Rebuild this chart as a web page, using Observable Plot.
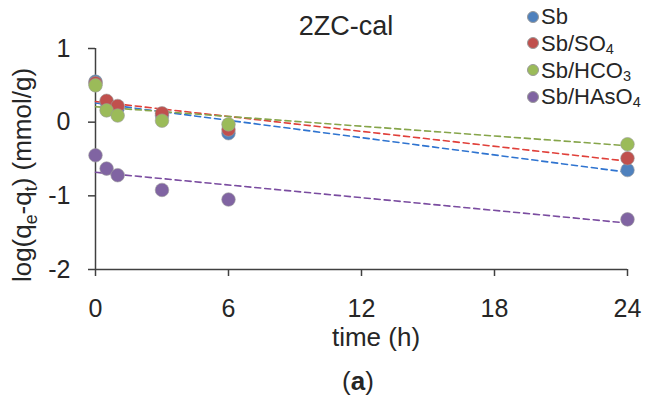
<!DOCTYPE html>
<html>
<head>
<meta charset="utf-8">
<script src="https://cdn.jsdelivr.net/npm/d3@7"></script>
<script src="https://cdn.jsdelivr.net/npm/@observablehq/plot@0.6"></script>
<style>
  html, body { margin: 0; padding: 0; background: #fff; }
  #wrap { position: relative; width: 649px; height: 405px; font-family: "Liberation Sans", Arial, sans-serif; color: #262626; }
  .abs { position: absolute; white-space: nowrap; }
  .sub { font-size: 0.68em; vertical-align: -0.32em; line-height: 0; }
  .lsub { font-size: 0.66em; vertical-align: -0.2em; line-height: 0; }
</style>
</head>
<body>
<div id="wrap"></div>
<script>
// ---- data ----
const times = [0, 0.5, 1, 3, 6, 24];
const seriesNames = ["Sb", "Sb/SO4", "Sb/HCO3", "Sb/HAsO4"];
const seriesLabels = ["Sb", "Sb/SO<span class='lsub'>4</span>", "Sb/HCO<span class='lsub'>3</span>", "Sb/HAsO<span class='lsub'>4</span>"];
const sbValues = [0.55, 0.27, 0.19, 0.09, -0.15, -0.65];
const so4Values = [0.53, 0.29, 0.22, 0.12, -0.10, -0.49];
const hco3Values = [0.50, 0.16, 0.09, 0.02, -0.03, -0.30];
const hasO4Values = [-0.45, -0.63, -0.72, -0.92, -1.05, -1.32];
// fitted (dashed) lines: value at t = 0 and t = 24
const fitTimes = [0, 24];
const fitStart = [0.26, 0.28, 0.21, -0.68];
const fitEnd = [-0.68, -0.53, -0.32, -1.37];
const markerColors = ["#4F81BD", "#C0504D", "#9BBB59", "#8064A2"];
const lineColors = ["#2F74D0", "#E0403A", "#86A54A", "#7A4CA0"];
const xTicks = [0, 6, 12, 18, 24];
const yTicks = [-2, -1, 0, 1];
const titleText = "2ZC-cal";
const xLabel = "time (h)";
const yLabelHtml = "log(q<span class='sub'>e</span>-q<span class='sub'>t</span>) (mmol/g)";
const captionHtml = "(<b>a</b>)";

// ---- build tables ----
const allValues = [sbValues, so4Values, hco3Values, hasO4Values];
const points = [];
allValues.forEach((vals, i) => vals.forEach((v, j) => points.push({t: times[j], v, s: seriesNames[i]})));
const fits = [];
seriesNames.forEach((s, i) => {
  fits.push({t: fitTimes[0], v: fitStart[i], s});
  fits.push({t: fitTimes[1], v: fitEnd[i], s});
});
const lineColorOf = Object.fromEntries(seriesNames.map((s, i) => [s, lineColors[i]]));
const markerColorOf = Object.fromEntries(seriesNames.map((s, i) => [s, markerColors[i]]));

const axisColor = "#404040";

const chart = Plot.plot({
  width: 649,
  height: 405,
  marginLeft: 95,
  marginRight: 22,
  marginTop: 48,
  marginBottom: 136,
  x: {domain: [0, 24]},
  y: {domain: [-2, 1]},
  style: {fontFamily: "'Liberation Sans', Arial, sans-serif", color: "#262626", background: "white", overflow: "visible"},
  marks: [
    Plot.ruleX([0], {y1: -2, y2: 1, stroke: axisColor, strokeWidth: 1.5}),
    Plot.ruleY([-2], {x1: 0, x2: 24, stroke: axisColor, strokeWidth: 1.5}),
    Plot.axisX({ticks: xTicks, tickSize: 7, tickPadding: 23, fontSize: 25, label: null, stroke: axisColor, strokeWidth: 1.5, tickFormat: d => String(d)}),
    Plot.axisY({ticks: yTicks, tickSize: 7, tickPadding: 18, fontSize: 25, label: null, stroke: axisColor, strokeWidth: 1.5, tickFormat: d => String(d)}),
    ...seriesNames.map(s => Plot.line(fits.filter(d => d.s === s), {x: "t", y: "v", stroke: lineColorOf[s], strokeWidth: 1.6, strokeDasharray: "6,4"})),
    ...seriesNames.map(s => Plot.dot(points.filter(d => d.s === s), {x: "t", y: "v", r: 6.8, fill: markerColorOf[s], stroke: "#9a9a9a", strokeWidth: 0.6})),
  ]
});

const wrap = document.getElementById("wrap");
chart.style.position = "absolute";
chart.style.left = "0px";
chart.style.top = "0px";
wrap.appendChild(chart);

function addText(html, css) {
  const d = document.createElement("div");
  d.className = "abs";
  d.innerHTML = html;
  Object.assign(d.style, css);
  wrap.appendChild(d);
  return d;
}

// title
addText(titleText, {left: "346px", top: "13px", fontSize: "27px", lineHeight: "27px", transform: "translateX(-50%)"});
// x label
addText(xLabel, {left: "376px", top: "324px", fontSize: "26px", lineHeight: "26px", transform: "translateX(-50%)"});
// caption
addText(captionHtml, {left: "358px", top: "368px", fontSize: "26px", lineHeight: "26px", transform: "translateX(-50%)"});
// y label (rotated)
addText(yLabelHtml, {left: "22px", top: "175px", fontSize: "26px", lineHeight: "26px", transform: "translate(-50%, -50%) rotate(-90deg)"});

// legend
const legendTop = 16.7, legendStep = 26.67;
seriesNames.forEach((s, i) => {
  const cy = legendTop + i * legendStep;
  const dot = document.createElement("div");
  Object.assign(dot.style, {position: "absolute", left: (532.7 - 6) + "px", top: (cy - 6) + "px", width: "12px", height: "12px", borderRadius: "50%", background: markerColors[i], boxSizing: "border-box", border: "0.6px solid #9a9a9a"});
  wrap.appendChild(dot);
  addText(seriesLabels[i], {left: "541px", top: (cy + 8 - 18.5) + "px", fontSize: "22px", lineHeight: "22px"});
});
</script>
</body>
</html>
